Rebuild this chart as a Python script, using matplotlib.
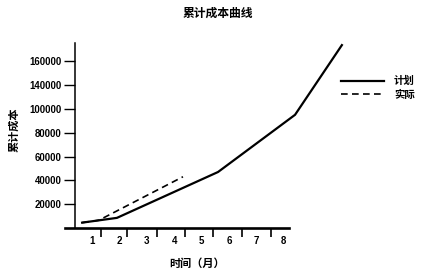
"""
Cumulative cost curve (plan vs actual), redrawn from a scanned figure.
Output: out.png (428x272)
"""
import matplotlib
matplotlib.use("Agg")
import matplotlib.pyplot as plt

CJK = ["Noto Sans CJK SC", "DejaVu Sans"]
NUM = ["Liberation Sans", "DejaVu Sans"]

# ------------------------------------------------------------------
# Data (x in months, y in cost units)
# ------------------------------------------------------------------
PLAN_X = [0.64, 1.91, 5.6, 8.41, 10.12]
PLAN_Y = [4500, 8500, 47000, 95000, 153500]

ACTUAL_X = [0.64, 1.25, 4.32]
ACTUAL_Y = [4500, 6500, 43000]

MONTHS = [1, 2, 3, 4, 5, 6, 7, 8]
MONTH_LABELS = ["1", "2", "3", "4", "5", "6", "7", "8"]
MONTH_TICKS = [1.32, 2.27, 3.36, 4.39, 5.42, 6.46, 7.52]

Y_TICKS = [20000, 40000, 60000, 80000, 100000, 120000, 140000]
Y_LABELS = ["20000", "40000", "60000", "80000", "100000", "140000", "160000"]


def plot_cost_curve():
    W, H = 428, 272
    fig = plt.figure(figsize=(W / 100, H / 100), dpi=100)

    # axes placed in pixel terms: month m -> 92 + 27.4*(m-1) px,
    # 20000 units -> 23.83 px, zero at y = 228 px
    x0 = 92 - 27.4
    x1 = 92 + 27.4 * 10
    yb = 228
    yt = 228 - 8 * 23.83
    ax = fig.add_axes([x0 / W, (H - yb) / H, (x1 - x0) / W, (yb - yt) / H])
    ax.set_xlim(0, 11)
    ax.set_ylim(0, 160000)

    ax.plot(PLAN_X, PLAN_Y, color="black", lw=1.6, label="计划",
            solid_joinstyle="miter", clip_on=False)
    ax.plot(ACTUAL_X, ACTUAL_Y, color="black", lw=1.2, ls=(0, (4, 2.6)),
            label="实际", clip_on=False)

    # spines
    ax.spines["top"].set_visible(False)
    ax.spines["right"].set_visible(False)
    ax.spines["left"].set_position(("data", 0.38))
    ax.spines["left"].set_bounds(0, 155000)
    ax.spines["left"].set_linewidth(1.1)
    ax.spines["bottom"].set_bounds(0, 8.2)
    ax.spines["bottom"].set_linewidth(1.9)

    # y ticks
    ax.set_yticks(Y_TICKS)
    ax.set_yticklabels(Y_LABELS, fontfamily=NUM, fontweight="bold", fontsize=6.9)
    ax.tick_params(axis="y", direction="out", length=8, width=1.0, pad=1.5)

    # x: labels at months, tick marks in between
    ax.set_xticks(MONTHS)
    ax.set_xticklabels(MONTH_LABELS, fontfamily=NUM, fontweight="bold", fontsize=7)
    ax.set_xticks(MONTH_TICKS, minor=True)
    ax.tick_params(axis="x", which="major", length=0, pad=5.5)
    ax.tick_params(axis="x", which="minor", direction="out", length=6.5, width=1.2)

    ax.legend(loc="center left", bbox_to_anchor=(341 / W, 1 - 88 / H),
              bbox_transform=fig.transFigure, frameon=False,
              prop={"family": CJK, "weight": "bold", "size": 7.5},
              handlelength=4.1, handletextpad=1.0, labelspacing=0.3,
              borderpad=0, borderaxespad=0)

    fig.text(218 / W, 1 - 13 / H, "累计成本曲线", ha="center", va="center",
             family=CJK, fontweight="bold", fontsize=8.5)
    fig.text(14 / W, 1 - 130 / H, "累计成本", ha="center", va="center",
             rotation=90, family=CJK, fontweight="bold", fontsize=8)
    fig.text(197 / W, 1 - 263 / H, "时间（月）", ha="center", va="center",
             family=CJK, fontweight="bold", fontsize=8)

    fig.savefig("out.png", dpi=100)
    plt.close(fig)


if __name__ == "__main__":
    plot_cost_curve()
